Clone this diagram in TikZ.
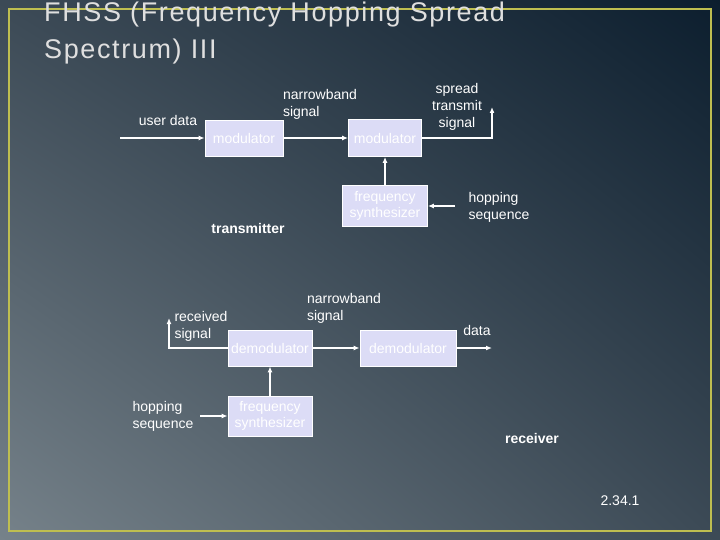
\documentclass[tikz,border=0pt]{standalone}
\usepackage{fontspec}
\setmainfont{Liberation Sans}
\usetikzlibrary{arrows.meta,shadings}
\definecolor{boxc}{RGB}{220,220,246}
\definecolor{bgl}{RGB}{118,130,138}
\definecolor{bgm}{RGB}{60,74,86}
\definecolor{bgr}{RGB}{12,30,46}
\definecolor{framec}{RGB}{190,190,80}
\tikzset{
  blk/.style={draw=white,line width=0.8pt,fill=boxc,text=white,inner sep=0pt,font=\fontsize{14}{16}\selectfont,align=center},
  lbl/.style={text=white,font=\fontsize{14}{17}\selectfont,align=left,inner sep=0pt},
  con/.style={draw=white,line width=1.6pt,-{Latex[length=6pt,width=5pt]}},
}
\begin{document}
\begin{tikzpicture}[x=1pt,y=-1pt]
\useasboundingbox (0,0) rectangle (720,540);
\shade[lower left=bgl,upper left=bgm,lower right=bgm,upper right=bgr] (0,0) rectangle (720,540);
\draw[framec,line width=2pt] (9,9) rectangle (711,531);
\node[anchor=north west,text=gray!25,font=\fontsize{27}{37}\selectfont,align=left,inner sep=0pt] (title) at (44,2) {\addfontfeatures{LetterSpace=6}FHSS (Frequency Hopping Spread\\\addfontfeatures{LetterSpace=6}Spectrum) III};
% transmitter
\node[blk,minimum width=78pt,minimum height=36pt] (m1) at (244,138) {modulator};
\node[blk,minimum width=73pt,minimum height=37pt] (m2) at (385,138) {modulator};
\node[blk,minimum width=85pt,minimum height=41pt] (f1) at (385,206) {frequency\\synthesizer};
\coordinate (uin) at (120,138);
\coordinate (sout) at (492,107);
\coordinate (hin1) at (455,206);
\draw[con] (uin) -- (m1);
\draw[con] (m1) -- (m2);
\draw[con] (m2.east) -| (sout);
\draw[con] (f1) -- (m2);
\draw[con] (hin1) -- (f1);
\node[lbl] (ud) at (168,120) {user data};
\node[lbl] (nb1) at (320,104) {narrowband\\signal};
\node[lbl,align=center] (sp) at (457,107) {spread\\transmit\\signal};
\node[lbl] (hs1) at (499,207) {hopping\\sequence};
\node[lbl,font=\bfseries\fontsize{14}{16}\selectfont] (tx) at (248,228) {transmitter};
% receiver
\node[blk,minimum width=84pt,minimum height=36pt] (d1) at (270,348) {demodulator};
\node[blk,minimum width=96pt,minimum height=36pt] (d2) at (408,348) {demodulator};
\node[blk,minimum width=84pt,minimum height=40pt] (f2) at (270,416) {frequency\\synthesizer};
\coordinate (rin) at (169,318);
\coordinate (dout) at (492,348);
\coordinate (hin2) at (200,416);
\draw[con] (d1.west) -| (rin);
\draw[con] (d1) -- (d2);
\draw[con] (d2) -- (dout);
\draw[con] (f2) -- (d1);
\draw[con] (hin2) -- (f2);
\node[lbl] (nb2) at (344,308) {narrowband\\signal};
\node[lbl] (rs) at (201,326) {received\\signal};
\node[lbl] (da) at (477,330) {data};
\node[lbl] (hs2) at (163,416) {hopping\\sequence};
\node[lbl,font=\bfseries\fontsize{14}{16}\selectfont] (rx) at (532,438) {receiver};
\node[lbl] (pg) at (620,501) {2.34.1};
\end{tikzpicture}
\end{document}
